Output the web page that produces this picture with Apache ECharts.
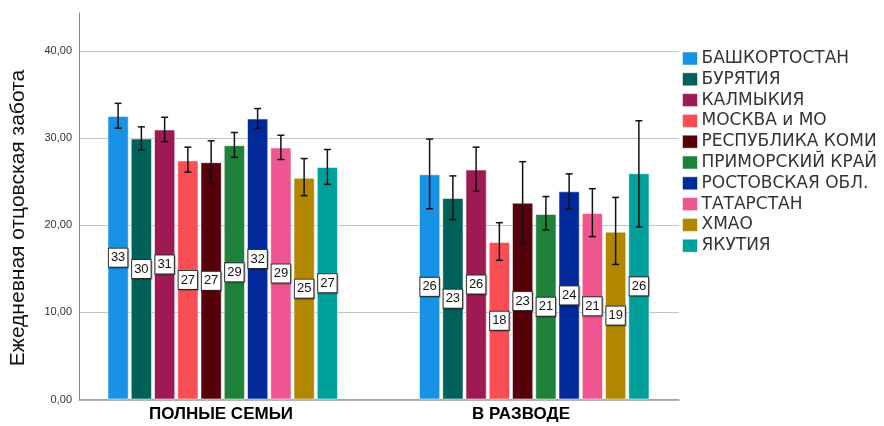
<!DOCTYPE html>
<html>
<head>
<meta charset="utf-8">
<script src="https://cdn.jsdelivr.net/npm/echarts@6/dist/echarts.min.js"></script>
<style>html,body{margin:0;padding:0;background:#fff}#c{width:884px;height:426px}</style>
</head>
<body>
<div id="c"></div>
<script>
const groups = ['ПОЛНЫЕ СЕМЬИ', 'В РАЗВОДЕ'];
const regions = ['БАШКОРТОСТАН', 'БУРЯТИЯ', 'КАЛМЫКИЯ', 'МОСКВА и МО', 'РЕСПУБЛИКА КОМИ',
  'ПРИМОРСКИЙ КРАЙ', 'РОСТОВСКАЯ ОБЛ.', 'ТАТАРСТАН', 'ХМАО', 'ЯКУТИЯ'];
const colors = ['#1792E5', '#00605A', '#9E1A55', '#FA4E55', '#560009',
  '#1E823A', '#02299A', '#EE5591', '#B18600', '#01A09B'];
// means [полные семьи, в разводе]
const means = [
  [32.56, 25.86],
  [29.96, 23.14],
  [31.0, 26.4],
  [27.45, 18.08],
  [27.24, 22.6],
  [29.2, 21.3],
  [32.26, 23.9],
  [28.93, 21.4],
  [25.45, 19.27],
  [26.7, 25.98]
];
// error bars [low, high] per group
const errLow = [
  [31.15, 21.9],
  [28.65, 20.65],
  [29.6, 23.9],
  [26.1, 15.98],
  [24.8, 17.9],
  [27.8, 19.46],
  [31.15, 21.9],
  [27.55, 18.7],
  [23.4, 15.5],
  [24.7, 19.8]
];
const errHigh = [
  [34.0, 29.9],
  [31.3, 25.67],
  [32.4, 28.97],
  [28.97, 20.3],
  [29.7, 27.3],
  [30.65, 23.3],
  [33.4, 25.9],
  [30.34, 24.2],
  [27.66, 23.2],
  [28.7, 32.0]
];
const yTicks = [0, 10, 20, 30, 40];

const Y_MAX = 44.37;
const CAT_GAP = 0.26, BAR_GAP = 0.094;
const N = regions.length;

function errRender(seriesIdx) {
  return function (params, api) {
    const band = api.size([1, 0])[0];
    const remained = band * (1 - CAT_GAP);
    const bw = remained / (N + (N - 1) * BAR_GAP);
    const total = bw * N + bw * BAR_GAP * (N - 1);
    const off = -total / 2 + seriesIdx * bw * (1 + BAR_GAP) + bw / 2;
    const pLow = api.coord([api.value(0), api.value(1)]);
    const pHigh = api.coord([api.value(0), api.value(2)]);
    const x = pLow[0] + off;
    const cap = 3.5;
    const st = { stroke: '#111', lineWidth: 1.5 };
    return {
      type: 'group',
      children: [
        { type: 'line', shape: { x1: x, y1: pLow[1], x2: x, y2: pHigh[1] }, style: st },
        { type: 'line', shape: { x1: x - cap, y1: pLow[1], x2: x + cap, y2: pLow[1] }, style: st },
        { type: 'line', shape: { x1: x - cap, y1: pHigh[1], x2: x + cap, y2: pHigh[1] }, style: st }
      ]
    };
  };
}

const series = [];
regions.forEach((r, i) => {
  series.push({
    name: r,
    type: 'bar',
    xAxisIndex: 0,
    yAxisIndex: 0,
    barGap: (BAR_GAP * 100) + '%',
    barCategoryGap: (CAT_GAP * 100) + '%',
    data: means[i],
    itemStyle: { color: colors[i], borderColor: 'rgba(255,255,255,0.55)', borderWidth: 1 },
    label: {
      show: true,
      position: 'inside',
      formatter: p => String(Math.round(p.value)),
      fontFamily: 'Liberation Sans, Arial, sans-serif',
      fontSize: 13,
      color: '#111',
      backgroundColor: '#fff',
      borderColor: '#333',
      borderWidth: 1,
      padding: [3, 2, 2, 2],
      shadowColor: 'rgba(0,0,0,0.25)',
      shadowOffsetX: 1,
      shadowOffsetY: 1,
      shadowBlur: 1
    },
    z: 2
  });
});
regions.forEach((r, i) => {
  series.push({
    type: 'custom',
    xAxisIndex: 0,
    yAxisIndex: 0,
    renderItem: errRender(i),
    data: groups.map((g, j) => [j, errLow[i][j], errHigh[i][j]]),
    z: 3,
    silent: true
  });
});

const chart = echarts.init(document.getElementById('c'));
chart.setOption({
  animation: false,
  backgroundColor: '#fff',
  color: colors,
  grid: [
    { left: 67, width: 623, top: 13, height: 386.5 },
    { left: 79, width: 600, top: 13, height: 386.5 }
  ],
  xAxis: [
    { type: 'category', gridIndex: 0, data: groups, show: false },
    {
      type: 'category', gridIndex: 1, data: groups,
      axisLine: { lineStyle: { color: '#999', width: 1.5 } },
      axisTick: { show: false },
      axisLabel: {
        margin: 6,
        padding: [0, 16, 0, 0],
        color: '#000',
        fontWeight: 'bold',
        fontSize: 17,
        fontFamily: 'Liberation Sans, Arial, sans-serif'
      }
    }
  ],
  yAxis: [
    { type: 'value', gridIndex: 0, min: 0, max: Y_MAX, interval: 10, show: false },
    {
      type: 'value', gridIndex: 1, min: 0, max: Y_MAX, interval: 10,
      axisLine: { show: true, lineStyle: { color: '#888', width: 1 } },
      axisTick: { show: false },
      axisLabel: {
        showMaxLabel: false,
        margin: 7,
        color: '#333',
        fontSize: 11,
        fontFamily: 'Liberation Sans, Arial, sans-serif',
        formatter: v => (yTicks.indexOf(v) >= 0 ? v.toFixed(2).replace('.', ',') : '')
      },
      splitLine: { show: true, showMaxLine: false, lineStyle: { color: '#c4c4c4', width: 1 } }
    }
  ],
  legend: {
    orient: 'vertical',
    left: 682,
    top: 50,
    padding: 0,
    itemWidth: 15,
    itemHeight: 13,
    itemGap: 3.8,
    icon: 'rect',
    data: regions,
    textStyle: {
      fontFamily: 'DejaVu Sans, sans-serif',
      fontSize: 17,
      lineHeight: 17,
      color: '#333',
      padding: [0, 0, 0, -1]
    },
    itemStyle: { borderColor: 'rgba(255,255,255,0.5)', borderWidth: 1 }
  },
  graphic: [
    {
      type: 'text',
      x: 18,
      y: 218,
      rotation: Math.PI / 2,
      style: {
        text: 'Ежедневная отцовская забота',
        fill: '#111',
        font: '21px "Liberation Sans", Arial, sans-serif',
        textAlign: 'center',
        textVerticalAlign: 'middle'
      }
    }
  ],
  series: series
});
</script>
</body>
</html>
